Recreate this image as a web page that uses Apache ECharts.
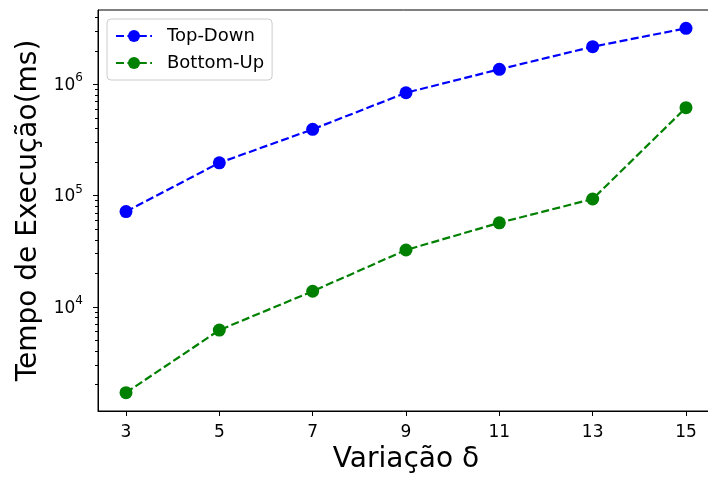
<!DOCTYPE html>
<html>
<head>
<meta charset="utf-8">
<script src="https://cdn.jsdelivr.net/npm/echarts@6/dist/echarts.min.js"></script>
<style>html,body{margin:0;padding:0;background:#fff;overflow:hidden}#c{width:708px;height:479px}</style>
</head>
<body>
<div id="c"></div>
<script>
const xValues = [3, 5, 7, 9, 11, 13, 15];
const topDown = [71800, 197000, 394000, 840000, 1365000, 2180000, 3190000];
const bottomUp = [1690, 6170, 13800, 32400, 56900, 93100, 617000];
const xTicks = [3, 5, 7, 9, 11, 13, 15];
const yMajorTicks = [1e4, 1e5, 1e6];
const yMinorTicks = [2e3,3e3,4e3,5e3,6e3,7e3,8e3,9e3,2e4,3e4,4e4,5e4,6e4,7e4,8e4,9e4,2e5,3e5,4e5,5e5,6e5,7e5,8e5,9e5,2e6,3e6,4e6];
const yRange = [1156, 4660000];
const xRange = [2.4, 15.6];

const FONT = 'DejaVu Sans';
const chart = echarts.init(document.getElementById('c'));
const pairs = arr => xValues.map((x, i) => [x, arr[i]]);
chart.setOption({
  animation: false,
  backgroundColor: '#fff',
  textStyle: { fontFamily: FONT },
  grid: { left: 98, width: 616, top: 10, bottom: 68, show: true, borderColor: '#000', borderWidth: 1, containLabel: false, outerBoundsMode: 'none' },
  legend: {
    orient: 'vertical', left: 107, top: 19,
    itemWidth: 36, itemHeight: 15, itemGap: 9,
    padding: [8, 8, 8, 8],
    borderColor: '#cccccc', borderWidth: 1, borderRadius: 4,
    backgroundColor: 'rgba(255,255,255,0.8)',
    textStyle: { fontFamily: FONT, fontSize: 18, color: '#000', padding: [0, 0, 0, 10] },
    data: ['Top-Down', 'Bottom-Up']
  },
  xAxis: {
    type: 'value', min: xRange[0], max: xRange[1],
    name: 'Variação δ', nameLocation: 'middle', nameGap: 34,
    nameTextStyle: { fontFamily: FONT, fontSize: 28, color: '#000' },
    axisLine: { show: true, lineStyle: { color: '#000', width: 1 } },
    axisTick: { show: true, length: 5, customValues: xTicks, lineStyle: { color: '#000' } },
    axisLabel: { customValues: xTicks, margin: 13, fontFamily: FONT, fontSize: 17, color: '#000' },
    splitLine: { show: false }
  },
  yAxis: [{
    type: 'log', logBase: 10, min: yRange[0], max: yRange[1],
    name: 'Tempo de Execução(ms)', nameLocation: 'middle', nameRotate: 90, nameGap: 52,
    nameTextStyle: { fontFamily: FONT, fontSize: 28, color: '#000' },
    axisLine: { show: true, lineStyle: { color: '#000', width: 1 } },
    axisTick: { show: true, length: 5, customValues: yMajorTicks, lineStyle: { color: '#000' } },
    axisLabel: {
      customValues: yMajorTicks, margin: 15, color: '#000',
      formatter: v => '{a|10}{b|' + Math.round(Math.log10(v)) + '}',
      rich: {
        a: { fontFamily: FONT, fontSize: 17, color: '#000', padding: [3, 0, 0, 0] },
        b: { fontFamily: FONT, fontSize: 12, color: '#000', padding: [0, 0, 12, 0] }
      }
    },
    splitLine: { show: false }
  }, {
    type: 'log', logBase: 10, min: yRange[0], max: yRange[1], position: 'left',
    axisLine: { show: false },
    axisTick: { show: true, length: 3, customValues: yMinorTicks, lineStyle: { color: '#000' } },
    axisLabel: { show: false },
    splitLine: { show: false }
  }],
  series: [{
    name: 'Top-Down', type: 'line', data: pairs(topDown),
    symbol: 'circle', symbolSize: 13,
    itemStyle: { color: '#0000ff' },
    lineStyle: { color: '#0000ff', width: 2.2, type: [8, 3.4] }
  }, {
    name: 'Bottom-Up', type: 'line', data: pairs(bottomUp),
    symbol: 'circle', symbolSize: 13,
    itemStyle: { color: '#008000' },
    lineStyle: { color: '#008000', width: 2.2, type: [8, 3.4] }
  }]
});
</script>
</body>
</html>
